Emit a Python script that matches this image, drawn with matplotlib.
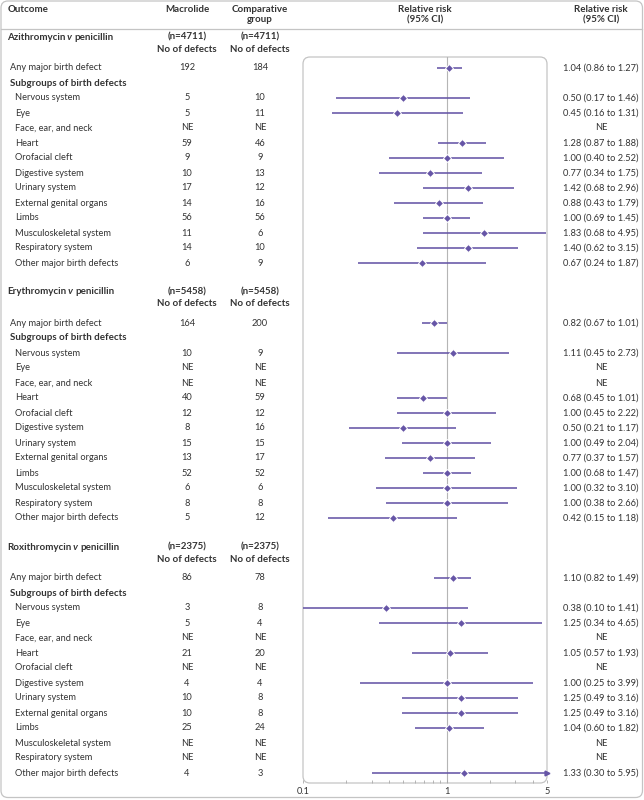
import matplotlib.pyplot as plt
from matplotlib.patches import FancyBboxPatch
import numpy as np

plt.rcParams['font.family'] = ['Lato', 'DejaVu Sans']

nan = np.nan

# data
drugs = ["Azithromycin", "Erythromycin", "Roxithromycin"]
n_pairs = ["4711", "5458", "2375"]
outcomes = ["Nervous system", "Eye", "Face, ear, and neck", "Heart", "Orofacial cleft",
            "Digestive system", "Urinary system", "External genital organs", "Limbs",
            "Musculoskeletal system", "Respiratory system", "Other major birth defects"]

# first value = any major birth defect, then the 12 subgroups
azi_mac = ["192", "5", "5", "NE", "59", "9", "10", "17", "14", "56", "11", "14", "6"]
azi_cmp = ["184", "10", "11", "NE", "46", "9", "13", "12", "16", "56", "6", "10", "9"]
azi_rr = [1.04, 0.50, 0.45, nan, 1.28, 1.00, 0.77, 1.42, 0.88, 1.00, 1.83, 1.40, 0.67]
azi_lo = [0.86, 0.17, 0.16, nan, 0.87, 0.40, 0.34, 0.68, 0.43, 0.69, 0.68, 0.62, 0.24]
azi_hi = [1.27, 1.46, 1.31, nan, 1.88, 2.52, 1.75, 2.96, 1.79, 1.45, 4.95, 3.15, 1.87]

ery_mac = ["164", "10", "NE", "NE", "40", "12", "8", "15", "13", "52", "6", "8", "5"]
ery_cmp = ["200", "9", "NE", "NE", "59", "12", "16", "15", "17", "52", "6", "8", "12"]
ery_rr = [0.82, 1.11, nan, nan, 0.68, 1.00, 0.50, 1.00, 0.77, 1.00, 1.00, 1.00, 0.42]
ery_lo = [0.67, 0.45, nan, nan, 0.45, 0.45, 0.21, 0.49, 0.37, 0.68, 0.32, 0.38, 0.15]
ery_hi = [1.01, 2.73, nan, nan, 1.01, 2.22, 1.17, 2.04, 1.57, 1.47, 3.10, 2.66, 1.18]

rox_mac = ["86", "3", "5", "NE", "21", "NE", "4", "10", "10", "25", "NE", "NE", "4"]
rox_cmp = ["78", "8", "4", "NE", "20", "NE", "4", "8", "8", "24", "NE", "NE", "3"]
rox_rr = [1.10, 0.38, 1.25, nan, 1.05, nan, 1.00, 1.25, 1.25, 1.04, nan, nan, 1.33]
rox_lo = [0.82, 0.10, 0.34, nan, 0.57, nan, 0.25, 0.49, 0.49, 0.60, nan, nan, 0.30]
rox_hi = [1.49, 1.41, 4.65, nan, 1.93, nan, 3.99, 3.16, 3.16, 1.82, nan, nan, 5.95]

macs = [azi_mac, ery_mac, rox_mac]
cmps = [azi_cmp, ery_cmp, rox_cmp]
rrs = [azi_rr, ery_rr, rox_rr]
los = [azi_lo, ery_lo, rox_lo]
his = [azi_hi, ery_hi, rox_hi]

# layout (pixels)
W, H = 644, 800
px_l, px_r, px_t, px_b = 303, 547, 57, 783
purple = '#6655a6'
txt = '#333333'
grey = '#c4c4c4'
fs = 6.7   # regular text
fb = 7.0   # bold text

fig = plt.figure(figsize=(W / 100, H / 100), dpi=100)
bg = fig.add_axes([0, 0, 1, 1])
bg.set_xlim(0, W)
bg.set_ylim(H, 0)
bg.axis('off')

bg.add_patch(FancyBboxPatch((1, 1), W - 2.5, H - 3.5, boxstyle="round,pad=0,rounding_size=7",
                            fc='white', ec=grey, lw=0.9))
bg.plot([1, W - 1.5], [29, 29], color=grey, lw=0.9)
bg.add_patch(FancyBboxPatch((px_l, px_t), px_r - px_l, px_b - px_t,
                            boxstyle="round,pad=0,rounding_size=7", fc='none', ec=grey, lw=0.9))

# column headers
hdr = dict(fontsize=fb, weight='bold', color=txt, va='center', ha='center')
bg.text(8, 9, "Outcome", fontsize=fb, weight='bold', color=txt, va='center')
bg.text(187, 9, "Macrolide", **hdr)
bg.text(260, 9, "Comparative", **hdr)
bg.text(260, 20, "group", **hdr)
bg.text(425, 9, "Relative risk", **hdr)
bg.text(425, 20, "(95% CI)", **hdr)
bg.text(601, 9, "Relative risk", **hdr)
bg.text(601, 20, "(95% CI)", **hdr)

# forest panel
ax = fig.add_axes([px_l / W, 1 - px_b / H, (px_r - px_l) / W, (px_b - px_t) / H])
ax.patch.set_alpha(0)
ax.set_xscale('log')
xmin, xmax = 0.1, 5
ax.set_xlim(xmin, xmax)
ax.set_ylim(px_b, px_t)
for s in ax.spines.values():
    s.set_visible(False)
ax.set_yticks([])
ax.set_xticks([0.1, 1, 5])
ax.set_xticklabels(['0.1', '1', '5'])
ax.set_xticks([0.2, 0.3, 0.4, 0.5, 0.6, 0.7, 0.8, 0.9, 2, 3, 4], minor=True)
ax.xaxis.set_minor_formatter(plt.NullFormatter())
ax.tick_params(axis='x', which='both', direction='in', length=2.5, width=0.6, color='#aaaaaa',
               labelsize=fs, labelcolor=txt, pad=3)
ax.axvline(1, color='#b5b5b5', lw=0.8, zorder=1)

for b in range(3):
    y0 = 37 + 255 * b
    # block header with italic v
    t1 = bg.text(7, y0, drugs[b], fontsize=fb, weight='bold', color=txt, va='center')
    t2 = bg.annotate(" v ", xy=(1, 0), xycoords=t1, va='bottom', fontsize=fb, weight='bold',
                     style='italic', color=txt)
    bg.annotate("penicillin", xy=(1, 0), xycoords=t2, va='bottom', fontsize=fb, weight='bold',
                color=txt)
    for xc in (187, 260):
        bg.text(xc, y0, "(n=%s)" % n_pairs[b], **hdr)
        bg.text(xc, y0 + 12, "No of defects", **hdr)
    bg.text(10, y0 + 46, "Subgroups of birth defects", fontsize=fb, weight='bold', color=txt,
            va='center')

    labels = ["Any major birth defect"] + outcomes
    for k in range(13):
        y = y0 + 31 if k == 0 else y0 + 46 + 15 * k
        bg.text(10 if k == 0 else 15, y, labels[k], fontsize=fs, color=txt, va='center')
        bg.text(187, y, macs[b][k], fontsize=fs, color=txt, va='center', ha='center')
        bg.text(260, y, cmps[b][k], fontsize=fs, color=txt, va='center', ha='center')
        rr, lo, hi = rrs[b][k], los[b][k], his[b][k]
        if np.isnan(rr):
            bg.text(601, y, "NE", fontsize=fs, color=txt, va='center', ha='center')
            continue
        bg.text(601, y, "%.2f (%.2f to %.2f)" % (rr, lo, hi), fontsize=fs, color=txt,
                va='center', ha='center')
        ax.plot([max(lo, xmin), min(hi, xmax)], [y, y], color=purple, lw=1.15,
                solid_capstyle='butt', zorder=3, clip_on=False)
        if hi > xmax:
            ax.plot([xmax], [y], marker='>', ms=3.5, color=purple, mec=purple, zorder=3,
                    clip_on=False)
        ax.plot([rr], [y], marker='D', ms=4.5, color=purple, mec='white', mew=0.7, zorder=4)

fig.savefig('out.png', dpi=100)
